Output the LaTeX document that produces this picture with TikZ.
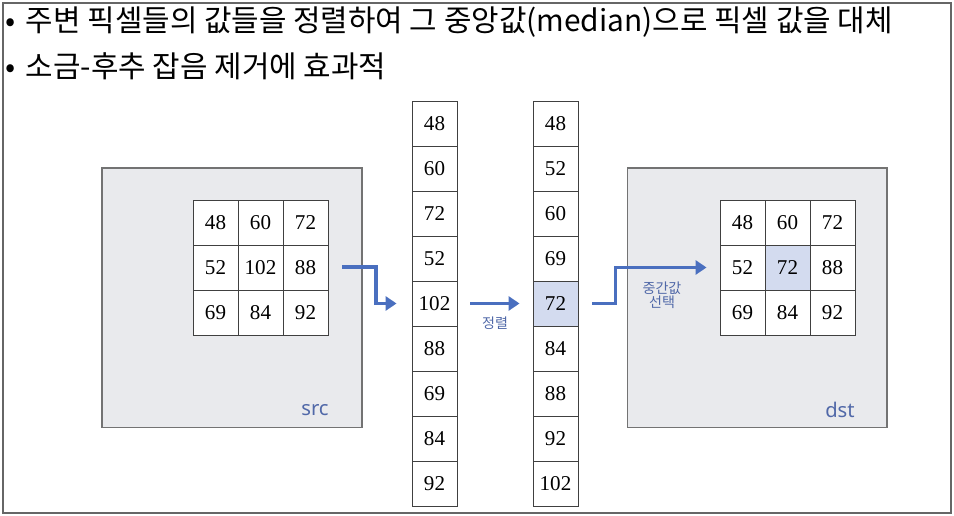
\documentclass[tikz,border=0pt]{standalone}
\usepackage{fontspec}
\setmainfont{Liberation Serif}
\setsansfont{Noto Sans}
\newfontfamily\kofont{Noto Sans CJK KR}
\usetikzlibrary{arrows.meta, positioning, calc}
\definecolor{framegray}{HTML}{666666}
\definecolor{panelgray}{HTML}{E9EAED}
\definecolor{flowblue}{HTML}{4A6FBF}
\definecolor{labelblue}{HTML}{5068A8}
\definecolor{pickblue}{HTML}{D3DBEF}
\tikzset{
    panel/.style={rectangle, draw=black!55, fill=panelgray, minimum width=5.2cm, minimum height=5.2cm, line width=0.6pt},
    cell/.style={rectangle, draw=black!75, fill=white, minimum size=0.9cm, inner sep=0pt, line width=0.5pt, font=\fontsize{12}{13}\selectfont},
    pick/.style={cell, fill=pickblue},
    tag/.style={font=\sffamily\fontsize{11.5}{12}\selectfont, text=labelblue},
    note/.style={font=\kofont\fontsize{8}{10}\selectfont, text=labelblue, align=center},
    headline/.style={anchor=west, font=\kofont\fontsize{17}{19}\selectfont, inner sep=0pt},
    flow/.style={-{Triangle[length=2.2mm, width=2.8mm]}, line width=1.8pt, draw=flowblue}
}
\begin{document}
\begin{tikzpicture}[x=0.02cm, y=-0.02cm]
    \useasboundingbox (0,0) rectangle (954,516);
    \draw[framegray, line width=1.2pt] (3,3) rectangle (951,513);

    % bullet text
    \node[headline] (line1) at (5,22) {•\hspace{0.35em}주변 픽셀들의 값들을 정렬하여 그 중앙값(median)으로 픽셀 값을 대체};
    \node[headline] (line2) at (5,66) {•\hspace{0.35em}소금-후추 잡음 제거에 효과적};

    % src and dst images
    \node[panel] (srcbox) at (232,298) {};
    \node[panel] (dstbox) at (757,298) {};
    \node[tag] (srclabel) at (315,410) {src};
    \node[tag] (dstlabel) at (840,410) {dst};

    % 3x3 windows
    \foreach \v [count=\i from 0] in {48,60,72,52,102,88,69,84,92} {
        \pgfmathtruncatemacro{\r}{div(\i,3)}
        \pgfmathtruncatemacro{\c}{mod(\i,3)}
        \node[cell] (s-\r-\c) at (215.5+45*\c, 222.5+45*\r) {\v};
    }
    \foreach \v [count=\i from 0] in {48,60,72,52,72,88,69,84,92} {
        \pgfmathtruncatemacro{\r}{div(\i,3)}
        \pgfmathtruncatemacro{\c}{mod(\i,3)}
        \ifnum\i=4
            \node[pick] (d-\r-\c) at (742.5+45*\c, 222.5+45*\r) {\v};
        \else
            \node[cell] (d-\r-\c) at (742.5+45*\c, 222.5+45*\r) {\v};
        \fi
    }

    % unsorted and sorted columns
    \foreach \v [count=\k] in {48,60,72,52,102,88,69,84,92}
        \node[cell] (u-\k) at (434.5, 78.5+45*\k) {\v};
    \foreach \v [count=\k] in {48,52,60,69,72,84,88,92,102} {
        \ifnum\k=5
            \node[pick] (o-\k) at (555.5, 78.5+45*\k) {\v};
        \else
            \node[cell] (o-\k) at (555.5, 78.5+45*\k) {\v};
        \fi
    }

    % arrows
    \coordinate (srcout) at (342,267);
    \draw[flow] (srcout) -- ++(34,0) |- ([xshift=-0.3cm]u-5.west);
    \draw[flow, shorten <=0.26cm, shorten >=0.26cm] (u-5) -- (o-5)
        node[note, midway, below=0.12cm] (sortlabel) {정렬};
    \coordinate (medout) at ([xshift=0.28cm]o-5.east);
    \draw[flow, shorten >=0.26cm] (medout) -- ++(23,0) |- (d-1-0.west);
    \node[note] (picklabel) at (662,295) {중간값\\[-2pt]선택};
\end{tikzpicture}
\end{document}
